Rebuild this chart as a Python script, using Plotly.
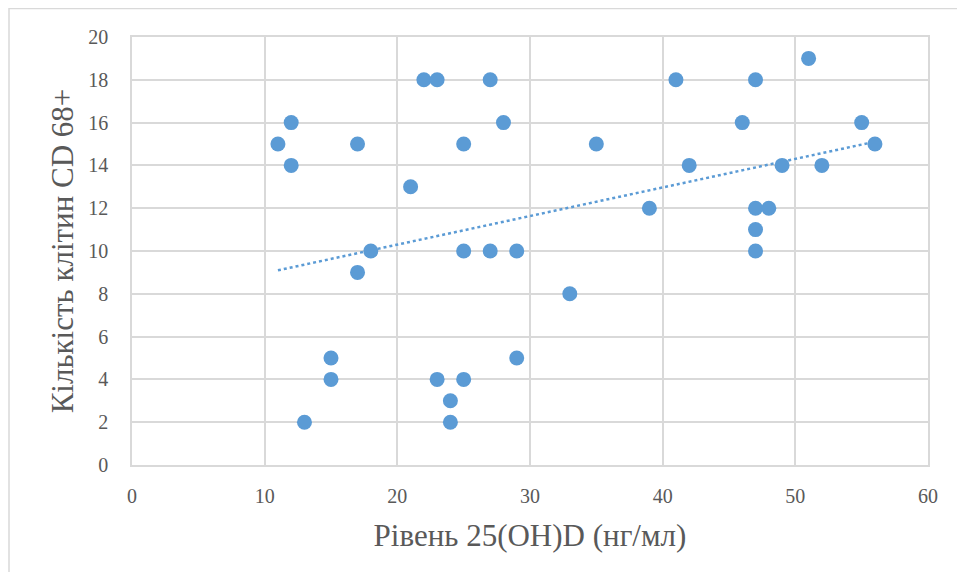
import numpy as np
import plotly.graph_objects as go

vitamin_d = [11, 12, 12, 13, 15, 15, 17, 17, 18, 21, 22, 23, 23, 24, 24, 25, 25, 25,
             27, 27, 28, 29, 29, 33, 35, 39, 41, 42, 46, 47, 47, 47, 47, 48, 49, 51, 52, 55, 56]
cd68_cells = [15, 16, 14, 2, 5, 4, 15, 9, 10, 13, 18, 18, 4, 3, 2, 15, 10, 4,
              18, 10, 16, 10, 5, 8, 15, 12, 18, 14, 16, 18, 12, 11, 10, 12, 14, 19, 14, 16, 15]
x_ticks = [0, 10, 20, 30, 40, 50, 60]
y_ticks = [0, 2, 4, 6, 8, 10, 12, 14, 16, 18, 20]

x_title = "Рівень 25(OH)D (нг/мл)"
y_title = "Кількість клітин CD 68+"

blue = "#5b9bd5"
grid = "#d9d9d9"
font_family = "Liberation Serif"

slope, intercept = np.polyfit(vitamin_d, cd68_cells, 1)
trend_x = [min(vitamin_d), max(vitamin_d)]
trend_y = [slope * v + intercept for v in trend_x]

fig = go.Figure()
fig.add_trace(go.Scatter(x=trend_x, y=trend_y, mode="lines",
                         line=dict(color=blue, width=2.5, dash="dot"),
                         hoverinfo="skip", showlegend=False))
fig.add_trace(go.Scatter(x=vitamin_d, y=cd68_cells, mode="markers",
                         marker=dict(color=blue, size=15, line=dict(width=0)),
                         showlegend=False))

# page body has an 8px margin; figure sized to fit the window
W, H = 949, 564
L, R, T, B = 124, 29, 29, 107
pw, ph = W - L - R, H - T - B

fig.update_layout(
    width=W, height=H,
    margin=dict(l=L, r=R, t=T, b=B, pad=0),
    paper_bgcolor="white", plot_bgcolor="white",
    font=dict(family=font_family, color="#595959"),
    xaxis=dict(range=[0, 60], tickvals=x_ticks, showgrid=True, gridcolor=grid, gridwidth=1.5,
               zeroline=False, showline=True, linecolor=grid, linewidth=1.5, mirror=True,
               tickfont=dict(family=font_family, size=20, color="#595959"), ticklabelstandoff=12,
               title=dict(text=x_title, font=dict(family=font_family, size=31, color="#595959"), standoff=19)),
    yaxis=dict(range=[0, 20], tickvals=y_ticks, showgrid=True, gridcolor=grid, gridwidth=1.5,
               zeroline=False, showline=True, linecolor=grid, linewidth=1.5, mirror=True,
               tickfont=dict(family=font_family, size=20, color="#595959"), ticklabelstandoff=18,
               title=dict(text=y_title, font=dict(family=font_family, size=31, color="#595959"), standoff=5)),
    shapes=[dict(type="rect", xref="paper", yref="paper",
                 x0=(1 - L) / pw, x1=(W + 10 - L) / pw,
                 y0=(H - B - (H + 10)) / ph, y1=(H - B - 0.5) / ph,
                 line=dict(color=grid, width=1.5), fillcolor="rgba(0,0,0,0)", layer="below")],
)

fig.write_html("out.html")
